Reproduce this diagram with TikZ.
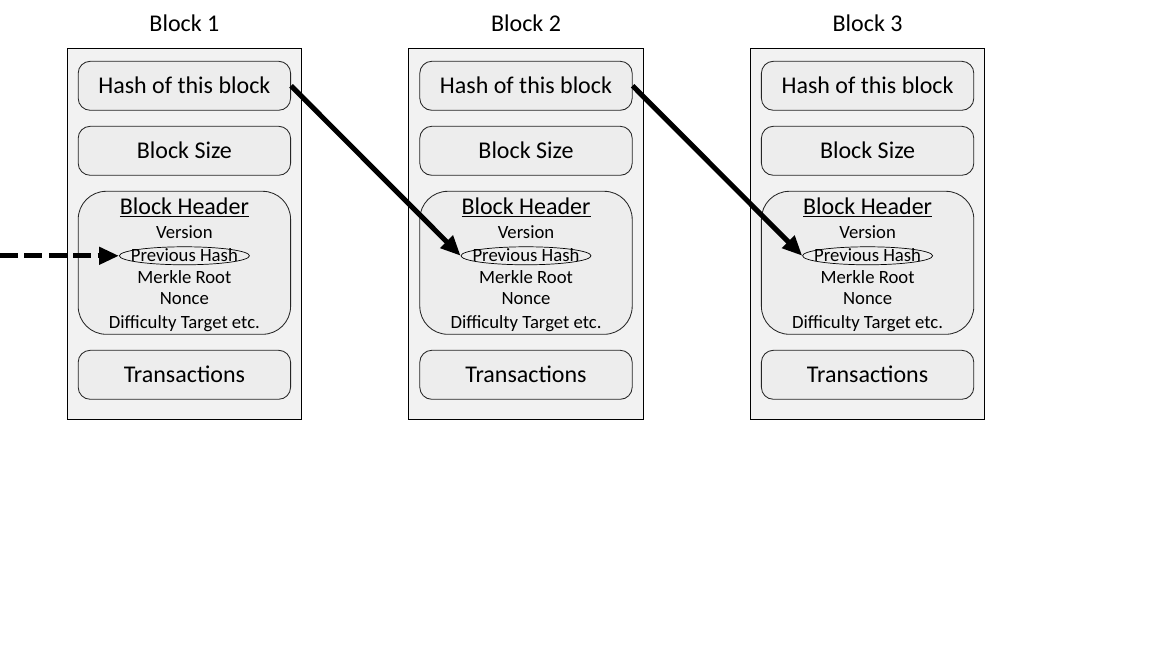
\documentclass[tikz,border=0pt]{standalone}
\usepackage{fontspec}
\setmainfont{Carlito}
\usetikzlibrary{arrows.meta,shapes.geometric}
\definecolor{blockgray}{HTML}{F2F2F2}
\definecolor{fieldgray}{HTML}{EDEDED}
\tikzset{
  chain block/.style={draw=black, fill=blockgray, line width=0.7pt, minimum width=5.86cm, minimum height=9.27cm},
  field/.style={draw=black!85, fill=fieldgray, rounded corners=0.3cm, line width=0.6pt, minimum width=5.31cm, minimum height=1.225cm},
  big text/.style={font=\fontsize{17.07}{20}\selectfont, text height=10.8pt, text depth=0pt, inner sep=0pt},
  small text/.style={font=\fontsize{13.3}{16}\selectfont, anchor=base, inner sep=0pt},
  link/.style={line width=3.6pt, -{Triangle[length=0.5cm,width=0.42cm]}},
}
\begin{document}
\begin{tikzpicture}
  \useasboundingbox (0,0) rectangle (28.8,16.2);
  \coordinate (origin) at (0,0);

  \foreach \i/\x in {1/4.61, 2/13.15, 3/21.69} {
    \node[chain block] (blk\i) at (\x,10.35) {};
    \node[big text, anchor=base] (title\i) at (\x,15.41) {Block \i};
    \node[field, big text] (hash\i) at (\x,14.055) {Hash of this block};
    \node[field, big text] (size\i) at (\x,12.43) {Block Size};
    \node[field, rounded corners=0.7cm, minimum height=3.575cm] (head\i) at (\x,9.63) {};
    \node[big text, anchor=base] (htitle\i) at (\x,10.84) {\underline{Block Header}};
    \node[small text] (ver\i) at (\x,10.24) {Version};
    \node[ellipse, draw, line width=0.5pt, inner sep=0pt, minimum width=3.25cm, minimum height=0.45cm] (prev\i) at (\x,9.805) {};
    \node[small text] (prevtxt\i) at (\x,9.66) {Previous Hash};
    \node[small text] (merkle\i) at (\x,9.12) {Merkle Root};
    \node[small text] (nonce\i) at (\x,8.575) {Nonce};
    \node[small text] (diff\i) at (\x,7.99) {Difficulty Target etc.};
    \node[field, big text] (tx\i) at (\x,6.83) {Transactions};
  }

  % links between the blocks
  \draw[link, dash pattern=on 0.45cm off 0.16cm] (origin |- prev1.west) -- (prev1.west);
  \draw[link] (hash1.east) -- (prev2.west);
  \draw[link] (hash2.east) -- (prev3.west);
\end{tikzpicture}
\end{document}
